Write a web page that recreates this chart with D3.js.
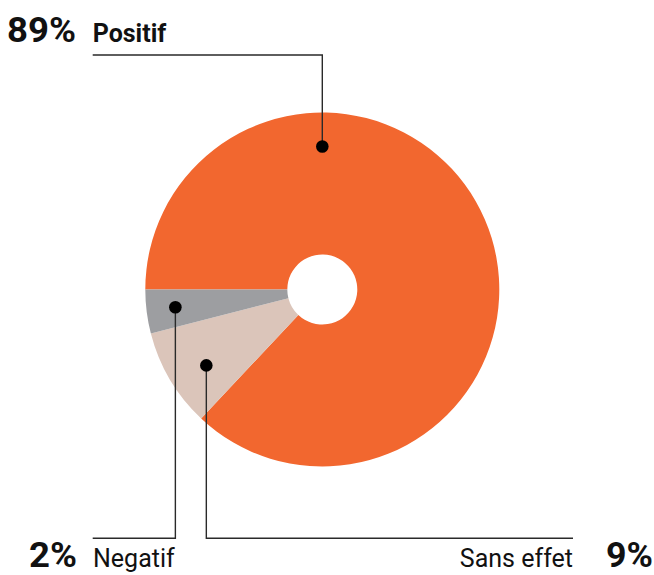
<!DOCTYPE html>
<html>
<head>
<meta charset="utf-8">
<script src="https://cdn.jsdelivr.net/npm/d3@7"></script>
<style>
  html, body { margin: 0; padding: 0; background: #fff; }
  svg { display: block; }
  text { font-family: Roboto, "Noto Sans", sans-serif; fill: #111; }
</style>
</head>
<body>
<svg id="chart" width="654" height="575"></svg>
<script>
// ---- data (slice sizes as drawn, and printed labels) ----
const categories = ["Positif", "Sans effet", "Negatif"];
const values = [87, 9, 4];
const pctLabels = ["89%", "9%", "2%"];
const colors = ["#F2672F", "#DBC5BA", "#9D9EA1"];

// ---- layout ----
const W = 654, H = 575;
const cx = 322.3, cy = 289.5;
const rOuter = 177, rInner = 35;

const svg = d3.select("#chart");
const g = svg.append("g").attr("transform", `translate(${cx},${cy})`);

const pie = d3.pie().sort(null).value(d => d)
  .startAngle(-Math.PI / 2).endAngle(3 * Math.PI / 2);
const arc = d3.arc().innerRadius(rInner).outerRadius(rOuter);
const arcs = pie(values);

g.selectAll("path.slice").data(arcs).enter().append("path")
  .attr("class", "slice")
  .attr("d", arc)
  .attr("fill", (d, i) => colors[i]);

// ---- annotations: anchor angle (deg, clockwise from 12 o'clock) and radius ----
const lineY = { top: 55, bottom: 538.3 };
const annotations = [
  { i: 0, angle: 0, r: 143, side: "top", toX: 92.7 },
  { i: 1, angle: 236.8, r: 138.6, side: "bottom", toX: 573 },
  { i: 2, angle: 263.1, r: 148, side: "bottom", toX: 92.7 }
];

const polar = (a, r) => {
  const rad = a * Math.PI / 180;
  return [cx + r * Math.sin(rad), cy - r * Math.cos(rad)];
};

annotations.forEach(a => {
  const [px, py] = polar(a.angle, a.r);
  const ly = lineY[a.side];
  svg.append("path")
    .attr("d", `M${px},${py} L${px},${ly} L${a.toX},${ly}`)
    .attr("fill", "none")
    .attr("stroke", "#2a2a2a")
    .attr("stroke-width", 1.4);
  svg.append("circle")
    .attr("cx", px).attr("cy", py).attr("r", 6.3)
    .attr("fill", "#000");
});

// ---- labels ----
// Positif (top-left)
svg.append("text").attr("x", 7).attr("y", 42)
  .attr("font-size", 35).attr("font-weight", 700)
  .attr("textLength", 69).attr("lengthAdjust", "spacingAndGlyphs")
  .text(pctLabels[0]);
svg.append("text").attr("x", 92.7).attr("y", 42)
  .attr("font-size", 25).attr("font-weight", 700)
  .text(categories[0]);

// Negatif (bottom-left)
svg.append("text").attr("x", 29).attr("y", 567)
  .attr("font-size", 35).attr("font-weight", 700)
  .attr("textLength", 48).attr("lengthAdjust", "spacingAndGlyphs")
  .text(pctLabels[2]);
svg.append("text").attr("x", 93).attr("y", 567)
  .attr("font-size", 25).attr("font-weight", 400)
  .text(categories[2]);

// Sans effet (bottom-right)
svg.append("text").attr("x", 573).attr("y", 567)
  .attr("text-anchor", "end")
  .attr("font-size", 25).attr("font-weight", 400)
  .text(categories[1]);
svg.append("text").attr("x", 606).attr("y", 567)
  .attr("font-size", 35).attr("font-weight", 700)
  .attr("textLength", 47).attr("lengthAdjust", "spacingAndGlyphs")
  .text(pctLabels[1]);
</script>
</body>
</html>
